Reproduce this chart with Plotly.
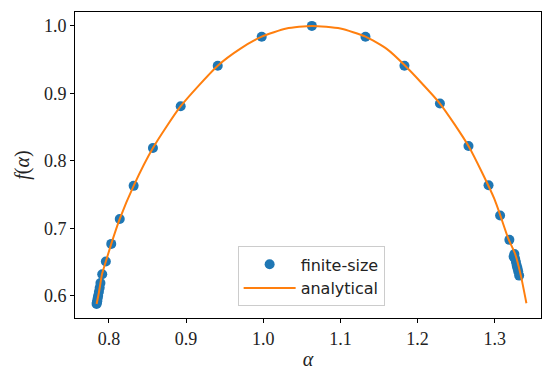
import plotly.graph_objects as go

# ── Colours ───────────────────────────────────────────────────────────────────
BLUE = "#1f77b4"
ORANGE = "#ff7f0e"
SERIF = "Liberation Serif"
SANS = "DejaVu Sans"

# ── Data ──────────────────────────────────────────────────────────────────────
finite_alpha = [
    0.7840, 0.7843, 0.7848, 0.7853, 0.7860, 0.7870, 0.7880, 0.7890, 0.7913,
    0.796, 0.803, 0.814, 0.832, 0.857, 0.893, 0.941, 0.998, 1.063,
    1.1325, 1.183, 1.229, 1.266, 1.292, 1.307, 1.319, 1.3245,
    1.3255, 1.3265, 1.3275, 1.3285, 1.3295, 1.3305, 1.3317,
]
finite_f = [
    0.588, 0.590, 0.592, 0.596, 0.600, 0.606, 0.612, 0.619, 0.632,
    0.651, 0.677, 0.714, 0.763, 0.819, 0.881, 0.941, 0.984, 1.000,
    0.984, 0.941, 0.885, 0.822, 0.764, 0.719, 0.683, 0.658,
    0.662, 0.655, 0.650, 0.645, 0.641, 0.636, 0.630,
]

analytic_alpha = [
    0.784, 0.787, 0.789, 0.791, 0.796, 0.803, 0.814, 0.832, 0.857, 0.893,
    0.941, 0.970, 0.998, 1.030, 1.063, 1.100, 1.1325, 1.160, 1.183, 1.229,
    1.266, 1.2994, 1.3179, 1.3265, 1.3339, 1.3411,
]
analytic_f = [
    0.588, 0.605, 0.619, 0.632, 0.651, 0.677, 0.714, 0.763, 0.819, 0.881,
    0.941, 0.966, 0.984, 0.996, 1.000, 0.996, 0.984, 0.966, 0.942, 0.885,
    0.822, 0.744, 0.684, 0.662, 0.630, 0.589,
]

x_ticks = [0.8, 0.9, 1.0, 1.1, 1.2, 1.3]
y_ticks = [0.6, 0.7, 0.8, 0.9, 1.0]

fig = go.Figure()

fig.add_trace(go.Scatter(
    x=finite_alpha, y=finite_f,
    mode="markers", name="finite-size",
    marker=dict(color=BLUE, size=10, line=dict(width=0)),
))

fig.add_trace(go.Scatter(
    x=analytic_alpha, y=analytic_f,
    mode="lines", name="analytical",
    line=dict(color=ORANGE, width=2, shape="spline", smoothing=0.6),
))

axis_common = dict(
    showline=True, linecolor="black", linewidth=1, mirror=True,
    ticks="outside", ticklen=4, tickcolor="black", tickwidth=1,
    showgrid=False, zeroline=False,
    tickfont=dict(family=SERIF, size=18, color="#222"),
    tickformat=".1f",
)

fig.update_xaxes(
    **axis_common,
    range=[0.756, 1.36], tickvals=x_ticks,
    title=dict(text="<i>α</i>", font=dict(family=SERIF, size=20, color="#222"),
               standoff=6),
)
fig.update_yaxes(
    **axis_common,
    range=[0.5672, 1.0206], tickvals=y_ticks,
    title=dict(text="<i>f</i>(<i>α</i>)", font=dict(family=SERIF, size=20, color="#222"),
               standoff=8),
)

fig.update_layout(
    width=543, height=370,
    paper_bgcolor="white", plot_bgcolor="white",
    margin=dict(l=75, r=1, t=12, b=50),
    showlegend=True,
    legend=dict(
        x=0.349, y=0.234, xanchor="left", yanchor="top",
        bgcolor="rgba(255,255,255,0.8)", bordercolor="#cccccc", borderwidth=1,
        font=dict(family=SANS, size=16, color="#222"),
        itemwidth=52,
    ),
)

# drop the default 8px body margin so the figure sits at the window's corner
fig.write_html("out.html", config={"displayModeBar": False},
               post_script="document.body.style.margin='0';")
